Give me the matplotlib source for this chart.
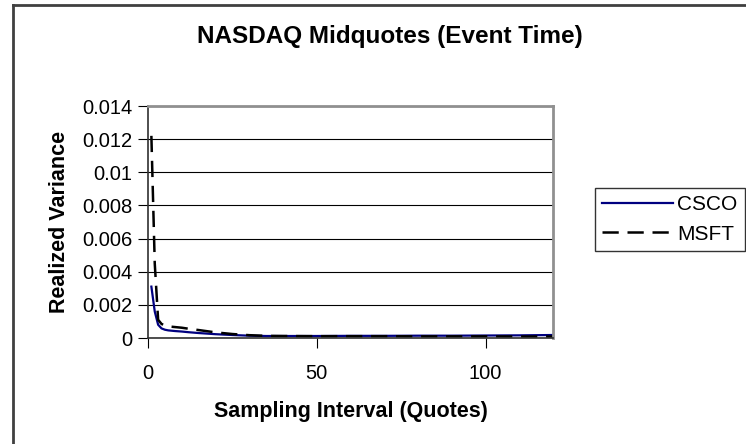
import numpy as np
import matplotlib.pyplot as plt
from matplotlib.lines import Line2D

plt.rcParams['font.family'] = ['Liberation Sans', 'DejaVu Sans']

# Sampling interval (quotes)
intervals = [1, 2, 3, 4, 5, 6, 8, 10, 12, 15, 20, 25, 30, 35, 40, 50, 60, 70, 80, 90, 100, 110, 120]
csco = [0.0031, 0.0016, 0.0008, 0.00058, 0.0005, 0.00046, 0.00042, 0.00039, 0.00035, 0.0003,
        0.00023, 0.00018, 0.00014, 0.00012, 0.00012, 0.00012, 0.00013, 0.00013, 0.00014,
        0.00014, 0.00015, 0.00016, 0.00018]
msft = [0.0122, 0.0045, 0.0011, 0.00085, 0.00075, 0.0007, 0.00066, 0.00062, 0.00056, 0.00048,
        0.00034, 0.00024, 0.00017, 0.00013, 0.00012, 0.00011, 0.00011, 0.00011, 0.0001,
        0.0001, 0.0001, 0.00009, 0.00009]

W, H = 746, 444
fig = plt.figure(figsize=(W / 100, H / 100), dpi=100)
ax = fig.add_axes([148 / W, 1 - 338 / H, (553 - 148) / W, (338 - 106) / H])

ax.plot(intervals, csco, color='#000080', lw=1.6, label='CSCO')
ax.plot(intervals, msft, color='black', lw=1.8, ls=(0, (6.5, 3.5)), label='MSFT')

ax.set_xlim(0, 120)
ax.set_ylim(0, 0.014)
ax.set_xticks([0, 50, 100])
ax.set_yticks(np.arange(0, 0.0141, 0.002))
ax.set_yticklabels(['0', '0.002', '0.004', '0.006', '0.008', '0.01', '0.012', '0.014'])
ax.grid(axis='y', color='black', lw=0.8)
ax.set_axisbelow(True)
for side in ['top', 'right']:
    ax.spines[side].set_color('#909090')
    ax.spines[side].set_linewidth(2)
for side in ['left', 'bottom']:
    ax.spines[side].set_color('#303030')
    ax.spines[side].set_linewidth(1.2)
ax.tick_params(direction='out', length=7, labelsize=14.5, color='black', pad=4)
ax.tick_params(axis='x', pad=12)

ax.set_xlabel('Sampling Interval (Quotes)', fontsize=15.5, fontweight='bold', labelpad=13)
ax.set_ylabel('Realized Variance', fontsize=15.5, fontweight='bold', labelpad=9)
fig.text(390 / W, 1 - 36 / H, 'NASDAQ Midquotes (Event Time)', ha='center', va='center',
         fontsize=17.5, fontweight='bold')

leg = fig.legend(loc='upper left', bbox_to_anchor=(595 / W, 1 - 188 / H), fontsize=15,
                 frameon=True, fancybox=False, edgecolor='black', handlelength=3.4,
                 handletextpad=0.2, borderpad=0.35, labelspacing=0.5, borderaxespad=0)
leg.get_frame().set_linewidth(1)

# outer chart border (only top and left visible in the crop)
fig.add_artist(Line2D([13 / W, 1], [1 - 5 / H, 1 - 5 / H], transform=fig.transFigure,
                      color='#404040', lw=2))
fig.add_artist(Line2D([13 / W, 13 / W], [0, 1 - 5 / H], transform=fig.transFigure,
                      color='#404040', lw=2))

fig.savefig('out.png', dpi=100)
